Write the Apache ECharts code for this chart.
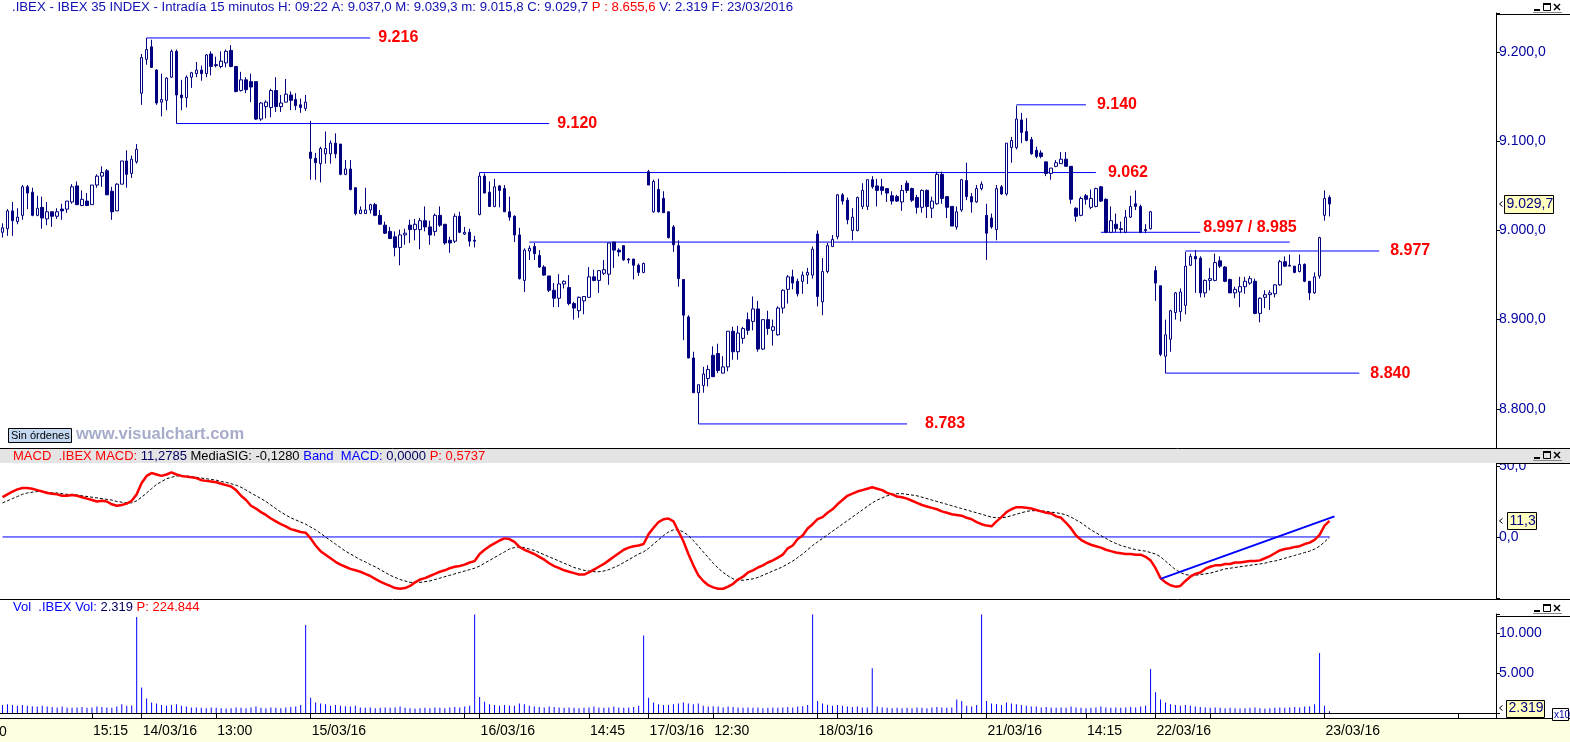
<!DOCTYPE html>
<html><head><meta charset="utf-8">
<script src="https://cdn.jsdelivr.net/npm/echarts@6/dist/echarts.min.js"></script>
<style>html,body{margin:0;padding:0;background:#fff;overflow:hidden}#c{width:1570px;height:742px}</style>
</head><body><div id="c"></div>
<script>
// ---------- DATA ----------
const days = ['11/03/16','14/03/16','15/03/16','16/03/16','17/03/16','18/03/16','21/03/16','22/03/16','23/03/16','24/03/16'];
const sessionTimes = ['09:15','09:30','09:45','10:00','10:15','10:30','10:45','11:00','11:15','11:30','11:45','12:00','12:15','12:30','12:45','13:00','13:15','13:30','13:45','14:00','14:15','14:30','14:45','15:00','15:15','15:30','15:45','16:00','16:15','16:30','16:45','17:00','17:15','17:30'];

// [open, high, low, close]
const candles = [
// 11/03
[8998,9008,8992,9003],[9002,9024,8994,9022],[9022,9032,8994,9011],[9010,9025,9007,9015],[9017,9051,9012,9049],[9049,9051,9024,9042],[9043,9048,9016,9017],[9017,9039,9016,9025],[9026,9038,9002,9014],[9013,9032,9006,9021],
[9021,9021,9004,9016],[9016,9025,9013,9021],[9024,9030,9012,9022],[9024,9033,9020,9033],[9032,9052,9030,9049],[9050,9055,9029,9029],[9028,9045,9028,9035],[9033,9042,9028,9028],[9029,9051,9029,9051],[9051,9063,9048,9061],
[9061,9072,9049,9065],[9067,9069,9040,9040],[9044,9049,9012,9021],[9022,9053,9022,9052],[9052,9078,9052,9078],[9078,9090,9048,9063],[9064,9084,9059,9080],[9077,9097,9075,9091],
// 14/03
[9154,9198,9141,9194],[9192,9216,9186,9203],[9206,9214,9183,9183],[9180,9181,9141,9143],[9144,9176,9128,9147],[9146,9172,9135,9171],[9172,9203,9171,9201],[9201,9203,9120,9152],[9152,9169,9135,9149],[9149,9174,9138,9172],
[9172,9178,9160,9177],[9176,9189,9172,9180],[9180,9185,9168,9176],[9176,9198,9172,9197],[9198,9201,9174,9184],[9186,9195,9183,9185],[9184,9201,9182,9190],[9188,9203,9183,9201],[9202,9208,9183,9184],[9184,9184,9155,9156],
[9157,9178,9156,9169],[9169,9172,9154,9158],[9167,9176,9144,9161],[9167,9167,9124,9125],[9125,9144,9123,9143],[9139,9146,9126,9144],[9138,9159,9127,9157],[9157,9172,9133,9139],[9139,9152,9133,9143],[9144,9170,9144,9153],
[9152,9156,9135,9146],[9147,9154,9135,9140],[9141,9148,9132,9138],[9137,9152,9134,9144],
// 15/03
[9088,9123,9057,9081],[9081,9087,9057,9076],[9075,9094,9054,9092],[9086,9111,9075,9092],[9086,9101,9075,9098],[9098,9109,9081,9086],[9097,9097,9062,9063],[9063,9079,9062,9069],[9069,9079,9045,9046],[9048,9048,9017,9019],
[9019,9027,9019,9023],[9019,9048,9019,9023],[9023,9030,9019,9029],[9029,9031,9016,9017],[9017,9023,9007,9007],[9006,9010,8996,8997],[8999,9004,8991,8991],[8993,8999,8971,8981],[8981,9001,8961,8995],[8995,9002,8984,8997],
[9006,9012,8986,9001],[9001,9013,8989,9007],[9001,9014,8979,9011],[9011,9027,8999,9004],[9004,9011,8984,8995],[8999,9019,8994,9017],[9017,9027,9004,9006],[9007,9007,8984,8986],[8989,8993,8975,8986],[8988,9019,8986,9016],
[9016,9021,8997,8998],[8996,9004,8995,8998],[8998,9002,8982,8988],[8989,8994,8981,8988],
// 16/03
[9018,9065,9017,9061],[9061,9064,9042,9042],[9043,9055,9027,9027],[9027,9058,9026,9049],[9050,9051,9026,9045],[9047,9051,9021,9021],[9021,9038,9011,9015],[9016,9017,8987,8995],[8995,9003,8945,8946],[8944,8980,8931,8978],
[8977,8983,8967,8980],[8982,8986,8967,8974],[8972,8978,8958,8959],[8959,8961,8949,8950],[8949,8949,8931,8933],[8933,8941,8914,8924],[8924,8951,8914,8940],[8940,8944,8935,8943],[8936,8950,8916,8918],[8918,8920,8900,8913],
[8910,8926,8902,8925],[8921,8926,8906,8926],[8925,8959,8925,8948],[8948,8956,8943,8944],[8944,8955,8930,8955],[8952,8967,8950,8956],[8951,8986,8939,8986],[8987,8987,8958,8978],[8978,8980,8971,8976],[8983,8983,8966,8967],
[8968,8969,8963,8967],[8968,8968,8945,8961],[8961,8963,8949,8953],[8953,8964,8952,8963],
// 17/03
[9066,9068,9051,9051],[9021,9057,9020,9055],[9046,9058,9020,9021],[9036,9044,9020,9020],[9021,9021,8991,8992],[9004,9006,8976,8984],[8983,8989,8937,8946],[8945,8945,8877,8905],[8903,8905,8857,8857],[8857,8864,8818,8818],
[8818,8827,8783,8827],[8826,8847,8818,8839],[8834,8849,8825,8844],[8860,8870,8836,8836],[8862,8873,8840,8843],[8840,8859,8840,8847],[8847,8887,8842,8887],[8887,8892,8855,8864],[8864,8893,8855,8885],[8879,8892,8873,8890],
[8900,8908,8883,8888],[8898,8926,8888,8912],[8912,8921,8864,8867],[8867,8900,8866,8900],[8900,8910,8883,8890],[8888,8900,8871,8892],[8883,8915,8882,8913],[8913,8934,8907,8933],[8934,8950,8918,8948],[8948,8956,8934,8941],
[8943,8946,8926,8929],[8943,8954,8929,8950],[8950,8958,8940,8953],[8950,8982,8946,8979],
// 18/03
[8996,9000,8915,8926],[8920,8969,8905,8954],[8954,8986,8952,8983],[8982,8995,8982,8990],[8993,9041,8990,9040],[9040,9042,9029,9033],[9034,9037,9007,9012],[9000,9025,8989,9015],[9000,9038,8999,9037],[9027,9053,9024,9045],
[9027,9057,9023,9057],[9057,9061,9047,9049],[9050,9058,9027,9045],[9049,9058,9040,9045],[9047,9047,9032,9042],[9039,9044,9029,9033],[9038,9040,9032,9033],[9032,9051,9022,9045],[9053,9056,9042,9045],[9047,9048,9032,9034],
[9037,9040,9019,9026],[9026,9046,9020,9045],[9045,9046,9014,9027],[9025,9038,9014,9033],[9030,9066,9029,9063],[9063,9066,9030,9036],[9038,9038,9014,9026],[9027,9027,9005,9005],[9004,9027,9001,9021],[9023,9058,9021,9057],
[9056,9076,9034,9038],[9038,9042,9020,9032],[9032,9051,9031,9047],[9047,9055,9045,9052],
// 21/03
[9017,9030,8967,8997],[9014,9019,9002,9004],[9001,9051,8989,9047],[9049,9051,9040,9041],[9041,9098,9039,9098],[9093,9105,9076,9101],[9093,9140,9091,9125],[9124,9132,9098,9110],[9111,9126,9100,9101],[9102,9105,9085,9086],
[9090,9094,9081,9083],[9087,9090,9081,9083],[9077,9077,9061,9064],[9064,9070,9057,9070],[9072,9079,9071,9076],[9075,9088,9075,9080],[9080,9088,9072,9072],[9072,9072,9030,9035],[9025,9026,9010,9016],[9017,9038,9016,9036],
[9039,9041,9029,9035],[9026,9046,9024,9036],[9027,9048,9026,9047],[9049,9050,9032,9033],[9035,9036,8997,8998],[8998,9027,8997,9011],[9007,9019,8998,9002],[9002,9010,8997,9001],[8998,9023,8997,9015],[9015,9039,9014,9027],
[9030,9045,9023,9027],[9027,9029,8997,8998],[9001,9007,8997,9000],[9002,9022,9001,9021],
// 22/03
[8955,8960,8921,8941],[8938,8938,8859,8861],[8859,8900,8840,8883],[8878,8911,8864,8910],[8908,8931,8900,8930],[8909,8935,8898,8931],[8916,8976,8906,8960],[8961,8974,8960,8971],[8971,8978,8930,8968],[8969,8971,8925,8930],
[8930,8945,8925,8944],[8944,8958,8933,8946],[8944,8974,8943,8964],[8966,8971,8958,8960],[8959,8960,8942,8943],[8945,8946,8930,8930],[8930,8937,8924,8934],[8931,8948,8914,8937],[8937,8948,8929,8943],[8941,8949,8939,8946],
[8943,8946,8906,8907],[8907,8925,8897,8924],[8925,8933,8913,8928],[8928,8933,8911,8930],[8929,8940,8925,8939],[8939,8967,8938,8965],[8965,8971,8959,8960],[8960,8973,8960,8961],[8960,8960,8952,8953],[8954,8973,8953,8962],
[8962,8963,8942,8943],[8943,8943,8922,8930],[8930,8953,8929,8948],[8949,8993,8946,8992],
// 23/03
[9017,9045,9011,9036],[9037.0,9039.3,9015.8,9029.7]
];

const macd = [
28,30,32,33.5,34.5,34.5,34,33,32,31,30.5,30,29,29,29.5,29,28,27,26,25,25.5,25,23,22,22.5,23.5,25.5,30,
38,43,45,44,43,44,45.5,44,43,42.5,42,41.5,40,39.5,39,38.5,37.5,36.5,35.5,33,29,26,22,20,17.5,15.5,13,11,9,7.5,5.5,4.5,3.5,3,
-1,-6,-10,-12.5,-15,-17.5,-19.5,-21,-22.5,-23.5,-24.5,-26,-27.5,-29.5,-31.5,-33,-34.5,-36,-36.5,-36,-34.5,-32,-30,-29,-27.5,-26,-24.5,-23.5,-22,-21,-20.5,-19.5,-18,-17,
-12,-9,-6.5,-4.5,-2.5,-1,-1.5,-3.5,-7,-9,-10.5,-12,-14,-16,-18.5,-20.5,-22,-23.5,-24.5,-25.5,-26.5,-26.5,-25,-23,-21,-19,-16.5,-14,-11.5,-9,-7.5,-6.5,-6,-5,
2,6.5,10.5,12.5,13,11,4,-3,-12,-20,-27,-31,-34,-35.5,-36.5,-36.5,-35,-33,-30,-28,-25,-23.5,-21.5,-20,-18,-16.5,-14.5,-12.5,-8,-6,-1.5,1,6,9,
12.5,14,17,19.5,23,26,29,30.5,32,33,34,35,34,33,31,30,28.5,28,27,25.5,24,22.5,21.5,20.5,19.5,18,17,16,15.5,15,13.5,12.5,10.5,9,
8,7.5,11,14,17.5,19.5,21,21,20.5,20,19,18,17,16.5,14.5,13.5,10,6,1,-2,-4,-5.5,-6.5,-7.5,-9,-10,-11,-11.5,-12,-12,-12.5,-12.5,-14,-16.5,
-22,-29,-32,-34,-35,-34.5,-31,-28,-26,-25,-22.5,-21,-20,-20,-19,-19,-18,-18,-17.5,-17,-17,-16.5,-15,-13.5,-11.5,-9.5,-8.5,-8,-7,-6.5,-5,-4,-2,1.5,
8,11.28
];
const signal = [
24,25.5,27,28.5,30,31,31.5,32,32,31.5,31,31,30.5,30,30,29.5,29,28.5,28,27.5,27,26.5,26,25,24.5,24,24,25.5,
28,31,34,37,39,41,42,43,43,43,42.5,42,41.5,41,40.5,40,39,38.5,37.5,36.5,35,33,31,29,27,25,22.5,20,17.5,15.5,13.5,12,10.5,9,
7,5,2.5,0,-2.5,-5,-7.5,-10,-12,-14,-16,-17.5,-19.5,-21,-23,-25,-27,-28.5,-30,-31,-32,-32,-32,-31.5,-31,-30,-29,-28,-27,-26,-25,-24,-23,-22,
-20.5,-18.5,-16.5,-14.5,-12.5,-10.5,-8.5,-7.5,-7,-7.5,-8.5,-9.5,-11,-12.5,-14,-15.5,-17,-18.5,-20,-21.5,-22.5,-23.5,-24,-24.5,-24.5,-24,-23,-21.5,-20,-18,-16,-14,-12,-10.5,
-8,-5,-2,1,3.5,5,5,3.5,1,-2.5,-6.5,-10.5,-14.5,-18.5,-22,-25,-27.5,-29.5,-30.5,-30.5,-30,-29.5,-28.5,-27,-25.5,-24,-22.5,-21,-19,-17,-14.5,-12,-9,-6,
-3.5,-1,1.5,4,6.5,9,11.5,14,16.5,19,21.5,24,26,27.5,29,30,30.5,30.5,30,29.5,29,28,27,26,25,24,23,22,21,20,19,18,17,16,
15,14,13.5,13.5,14,15,16,17,18,18.5,18.5,18.5,18,17.5,17,16.5,15.5,14,12,10,7.5,5,3,1,-1,-3,-4.5,-6,-7,-8,-9,-9.5,-10,-11,
-12,-14,-17,-20,-23,-25,-26.5,-27,-27,-26.5,-26,-25.5,-24.5,-23.5,-22.5,-22,-21.5,-21,-20.5,-20,-19.5,-19,-18.5,-17.5,-17,-16,-15,-14,-13,-12,-11,-10,-8.5,-6.5,
-3.5,-0.13
];
const bandMACD = 0;
const trendMACD = [[233,-29.5],[268,14.5]];

const volumes = [
1000,1100,1000,900,1000,900,850,800,900,800,750,700,800,700,650,700,750,650,700,800,750,700,650,800,1100,900,950,12000,
3200,1800,1300,1200,1000,900,1000,1100,900,800,700,700,650,600,700,650,600,550,600,700,650,600,700,800,650,600,700,650,600,700,750,800,1000,11000,
1900,1300,1200,1100,900,1000,900,850,800,900,700,650,700,600,650,700,650,700,800,650,600,550,600,650,600,700,650,600,700,750,700,800,900,12300,
2000,1400,1100,1000,900,1000,950,900,1200,1100,900,800,750,700,800,750,700,650,700,650,600,650,700,800,700,650,700,800,700,650,700,750,900,9700,
1900,1300,1100,1000,1000,1100,1200,1300,1200,1100,1200,900,800,850,800,700,800,750,700,650,700,650,700,600,650,700,650,700,750,700,800,850,1000,12300,
1500,1200,1000,900,1000,900,800,750,800,700,700,5600,800,700,650,600,650,600,650,600,700,650,600,700,750,700,650,700,1700,1500,900,800,1000,12300,
1500,1200,1100,1000,1300,1200,1100,1000,900,800,800,700,750,700,650,700,650,800,700,650,600,650,700,800,700,650,700,650,700,750,700,800,900,5500,
2600,1700,1300,1100,1000,900,1000,900,800,750,700,650,700,650,600,650,600,550,600,650,700,600,550,600,650,700,650,700,750,700,800,850,1100,7500,
900,232
];

// support / resistance levels: [text, price, fromBar, toBar]
const levelLines = [
  ['9.216', 9216, 29, 74],
  ['9.120', 9120, 35, 110],
  ['9.062', 9065, 96, 220],
  ['9.140', 9141, 204, 218],
  ['8.997 / 8.985', 8998, 221, 241],
  ['', 8987, 106, 259],
  ['8.977', 8977, 238, 277],
  ['8.840', 8840, 234, 273],
  ['8.783', 8783, 140, 182]
];
const levelLabelGap = {'9.216':8,'9.120':8,'9.062':12,'9.140':11,'8.997 / 8.985':3,'8.977':11,'8.840':11,'8.783':18};

const labelBars = [18,28,43,62,96,118,130,143,164,198,218,232,266];
const tickOnlyBars = [93,168,193,243,293];

const lastClose = 9029.7, lastMacd = 11.2785, lastVol = 232;

// ---------- BUILD ----------
const categories = [];
days.forEach((d, di) => {
  let t = sessionTimes;
  if (di === 0) t = sessionTimes.slice(6);
  if (di === days.length - 1) t = sessionTimes.slice(0, 1);
  t.forEach(tt => categories.push(d + ' ' + tt));
});
const labelSet = new Set(labelBars);
const tickSet = new Set(labelBars.concat(tickOnlyBars));

const F = 'Liberation Sans, Arial, sans-serif';
function fmtNum(v, dec) {
  const neg = v < 0; v = Math.abs(v);
  let s = v.toFixed(dec);
  let [ip, dp] = s.split('.');
  ip = ip.replace(/\B(?=(\d{3})+(?!\d))/g, '.');
  return (neg ? '-' : '') + ip + (dp !== undefined ? ',' + dp : '');
}

const GL = 0, GW = 1496;
const chart = echarts.init(document.getElementById('c'), null, {renderer: 'canvas'});

const series = [];
series.push({
  type: 'candlestick', xAxisIndex: 0, yAxisIndex: 0, barWidth: 3,
  data: candles.map(c => [c[0], c[3], c[2], c[1]]),
  itemStyle: {color: '#FFFFFF', color0: '#000080', borderColor: '#000080', borderColor0: '#000080', borderWidth: 1},
  z: 3
});
levelLines.forEach(l => {
  series.push({
    type: 'line', xAxisIndex: 0, yAxisIndex: 0, symbol: 'none', silent: true,
    data: [[l[2], l[1]], [l[3], l[1]]],
    lineStyle: {color: '#0000FF', width: 1}, z: 2,
    endLabel: l[0] ? {show: true, formatter: l[0], distance: levelLabelGap[l[0]], offset: l[0].indexOf('/') > 0 ? [0, -5] : [0, 0],
      color: '#FF0000', fontSize: 16, fontWeight: 'bold', fontFamily: F} : {show: false}
  });
});
series.push({type: 'line', xAxisIndex: 1, yAxisIndex: 1, symbol: 'none', data: [[0, bandMACD], [candles.length - 1, bandMACD]], lineStyle: {color: '#0000FF', width: 1}, z: 2});
series.push({type: 'line', xAxisIndex: 1, yAxisIndex: 1, symbol: 'none', data: signal, lineStyle: {color: '#000000', width: 1, type: [3, 2]}, z: 3});
series.push({type: 'line', xAxisIndex: 1, yAxisIndex: 1, symbol: 'none', data: macd, lineStyle: {color: '#FF0000', width: 2.5}, z: 4});
series.push({type: 'line', xAxisIndex: 1, yAxisIndex: 1, symbol: 'none', data: trendMACD, lineStyle: {color: '#0000FF', width: 2}, z: 5});
series.push({type: 'bar', xAxisIndex: 2, yAxisIndex: 2, barWidth: 1, data: volumes, itemStyle: {color: '#0000FF'}, z: 2});

const xAxes = [0, 1, 2].map(g => ({
  type: 'category', gridIndex: g, data: categories, boundaryGap: true,
  axisLine: {show: g === 2, lineStyle: {color: '#000', width: 1}},
  axisTick: {show: g === 2, alignWithLabel: true, length: 5, interval: (i) => tickSet.has(i), lineStyle: {color: '#000'}},
  axisLabel: {show: g === 2, interval: (i) => labelSet.has(i), align: 'left', margin: 6, padding: [0, 0, 0, 1],
    fontSize: 14, color: '#000', fontFamily: F,
    formatter: (v) => { const p = v.split(' '); return p[1] === '09:15' ? p[0] : p[1]; }},
  splitLine: {show: false}, axisPointer: {show: false}
}));

const yCommon = {
  type: 'value', position: 'right', splitLine: {show: false},
  axisLine: {show: true, lineStyle: {color: '#000', width: 1}},
  axisTick: {show: true, length: 4, lineStyle: {color: '#000'}}
};
const yLbl = {margin: 3, fontSize: 14, color: '#0000A0', fontFamily: F};
const yAxes = [
  Object.assign({}, yCommon, {gridIndex: 0, min: 8756, max: 9244, minInterval: 100, maxInterval: 100,
    axisLabel: Object.assign({}, yLbl, {formatter: v => (Math.abs(v % 100) < 1e-6 && v >= 8800 && v <= 9200) ? fmtNum(v, 1) : ''})}),
  Object.assign({}, yCommon, {gridIndex: 1, min: -43, max: 52.8, minInterval: 50, maxInterval: 50,
    axisLabel: Object.assign({}, yLbl, {formatter: v => (v === 0 || v === 50) ? fmtNum(v, 1) : ''})}),
  Object.assign({}, yCommon, {gridIndex: 2, min: -625, max: 12375, minInterval: 5000, maxInterval: 5000,
    axisLabel: Object.assign({}, yLbl, {formatter: v => (v === 5000 || v === 10000) ? fmtNum(v, 0) : ''})})
];

chart.setOption({
  animation: false,
  backgroundColor: '#FFFFFF',
  grid: [
    {left: GL, width: GW, top: 13, height: 435, outerBoundsMode: 'none', containLabel: false},
    {left: GL, width: GW, top: 462, height: 136, outerBoundsMode: 'none', containLabel: false},
    {left: GL, width: GW, top: 614, height: 104, outerBoundsMode: 'none', containLabel: false}
  ],
  xAxis: xAxes, yAxis: yAxes, series: series
});

// ---------- DECORATION ----------
function winIcons(y) {
  return [
    {type: 'rect', shape: {x: 1534, y: y + 6, width: 6, height: 2}, style: {fill: '#000'}, z: 120},
    {type: 'rect', shape: {x: 1543.5, y: y + 0.5, width: 7, height: 7}, style: {fill: 'none', stroke: '#000', lineWidth: 1}, z: 120},
    {type: 'rect', shape: {x: 1543, y: y, width: 8, height: 2}, style: {fill: '#000'}, z: 120},
    {type: 'line', shape: {x1: 1554, y1: y + 1, x2: 1560, y2: y + 7}, style: {stroke: '#000', lineWidth: 1.5}, z: 120},
    {type: 'line', shape: {x1: 1560, y1: y + 1, x2: 1554, y2: y + 7}, style: {stroke: '#000', lineWidth: 1.5}, z: 120},
    {type: 'line', shape: {x1: 1533, y1: y + 9.5, x2: 1562, y2: y + 9.5}, style: {stroke: '#888', lineWidth: 1}, z: 120}
  ];
}
function valueBox(x, yc, w, h, txt) {
  return [
    {type: 'polyline', shape: {points: [[1502.5, yc - 2.5], [1499.5, yc], [1502.5, yc + 2.5]]}, style: {stroke: '#000', fill: 'none', lineWidth: 1}, z: 120},
    {type: 'rect', shape: {x: x + 0.5, y: Math.round(yc - h / 2) + 0.5, width: w, height: h}, style: {fill: '#FFFFC0', stroke: '#000', lineWidth: 1}, z: 120},
    {type: 'text', x: x + 2.5, y: yc + 0.5, style: {text: txt, fill: '#000080', font: '14px ' + F, verticalAlign: 'middle'}, z: 121}
  ];
}
const yPrice = chart.convertToPixel({yAxisIndex: 0}, lastClose);
const yMacd = chart.convertToPixel({yAxisIndex: 1}, lastMacd);
const yVol = Math.min(chart.convertToPixel({yAxisIndex: 2}, lastVol), 708);

const g = [];
// bottom strip
g.push({type: 'rect', shape: {x: 0, y: 719, width: 1570, height: 23}, style: {fill: '#FFFFE1'}, z: -1});
g.push({type: 'line', shape: {x1: 0, y1: 718.5, x2: 1570, y2: 718.5}, style: {stroke: '#000', lineWidth: 1}, z: 110});
// MACD header band
g.push({type: 'rect', shape: {x: 0, y: 449, width: 1570, height: 14}, style: {fill: '#E4E4E4'}, z: 100});
g.push({type: 'line', shape: {x1: 0, y1: 448.5, x2: 1570, y2: 448.5}, style: {stroke: '#000', lineWidth: 1}, z: 110});
// Vol header
g.push({type: 'line', shape: {x1: 0, y1: 599.5, x2: 1570, y2: 599.5}, style: {stroke: '#000', lineWidth: 1}, z: 110});
// right panel borders
g.push({type: 'line', shape: {x1: 1496, y1: 14.5, x2: 1570, y2: 14.5}, style: {stroke: '#000', lineWidth: 1}, z: 110});
g.push({type: 'line', shape: {x1: 1496, y1: 463.5, x2: 1570, y2: 463.5}, style: {stroke: '#000', lineWidth: 1}, z: 110});
g.push({type: 'line', shape: {x1: 1496, y1: 616.5, x2: 1570, y2: 616.5}, style: {stroke: '#000', lineWidth: 1}, z: 110});
g.push({type: 'line', shape: {x1: 1496.5, y1: 14, x2: 1496.5, y2: 448}, style: {stroke: '#000', lineWidth: 1}, z: 110});
g.push({type: 'line', shape: {x1: 1496.5, y1: 463, x2: 1496.5, y2: 599}, style: {stroke: '#000', lineWidth: 1}, z: 110});
g.push({type: 'line', shape: {x1: 1496.5, y1: 616, x2: 1496.5, y2: 718}, style: {stroke: '#000', lineWidth: 1}, z: 110});
// icons
winIcons(3).concat(winIcons(451), winIcons(604)).forEach(e => g.push(e));
// titles
g.push({type: 'text', x: 12, y: 7, z: 120, style: {
  text: '{b|.IBEX - IBEX 35 INDEX - Intradía 15 minutos H: 09:22 A: 9.037,0 M: 9.039,3 m: 9.015,8 C: 9.029,7 }{r|P : 8.655,6}{b| V: 2.319 F: 23/03/2016}',
  verticalAlign: 'middle', font: '13.2px ' + F,
  rich: {b: {fill: '#1010B0', fontSize: 13.2, fontFamily: F}, r: {fill: '#FF0000', fontSize: 13.2, fontFamily: F}}}});
g.push({type: 'text', x: 13, y: 456, z: 120, style: {
  text: '{r|MACD  .IBEX MACD: }{n|11,2785 }{k|MediaSIG: -0,1280 }{b|Band  MACD: }{n|0,0000 }{r|P: 0,5737}',
  verticalAlign: 'middle', font: '13px ' + F,
  rich: {r: {fill: '#FF0000', fontSize: 13, fontFamily: F}, n: {fill: '#000060', fontSize: 13, fontFamily: F},
         k: {fill: '#000000', fontSize: 13, fontFamily: F}, b: {fill: '#0000FF', fontSize: 13, fontFamily: F}}}});
g.push({type: 'text', x: 13, y: 607, z: 120, style: {
  text: '{b|Vol  .IBEX Vol: }{n|2.319 }{r|P: 224.844}',
  verticalAlign: 'middle', font: '13px ' + F,
  rich: {r: {fill: '#FF0000', fontSize: 13, fontFamily: F}, n: {fill: '#000060', fontSize: 13, fontFamily: F},
         b: {fill: '#0000FF', fontSize: 13, fontFamily: F}}}});
// value boxes
valueBox(1504, yPrice, 49, 18, fmtNum(lastClose, 1)).forEach(e => g.push(e));
valueBox(1507, yMacd, 29, 17, fmtNum(lastMacd, 1)).forEach(e => g.push(e));
valueBox(1506, yVol, 38, 17, fmtNum(2319, 0)).forEach(e => g.push(e));
g.push({type: 'rect', shape: {x: 1552.5, y: 708.5, width: 16, height: 12}, style: {fill: '#FFFFFF', stroke: '#000', lineWidth: 1}, z: 120});
g.push({type: 'text', x: 1554, y: 715, z: 121, style: {text: 'x10', fill: '#0000A0', font: '10px ' + F, verticalAlign: 'middle'}});
// x-axis clipped label at left
g.push({type: 'text', x: -1, y: 732, z: 5, style: {text: '0', fill: '#000', font: '14px ' + F, verticalAlign: 'middle'}});
// Sin órdenes / watermark
g.push({type: 'rect', shape: {x: 8.5, y: 428.5, width: 63, height: 14}, style: {fill: '#C4D8F2', stroke: '#000', lineWidth: 1}, z: 120});
g.push({type: 'text', x: 11, y: 436, z: 121, style: {text: 'Sin órdenes', fill: '#000', font: '11px ' + F, verticalAlign: 'middle'}});
g.push({type: 'text', x: 76, y: 434.5, z: 121, style: {text: 'www.visualchart.com', fill: '#A7ACCB', font: 'bold 16.5px ' + F, verticalAlign: 'middle'}});

chart.setOption({graphic: {elements: g}});
</script>
</body></html>
